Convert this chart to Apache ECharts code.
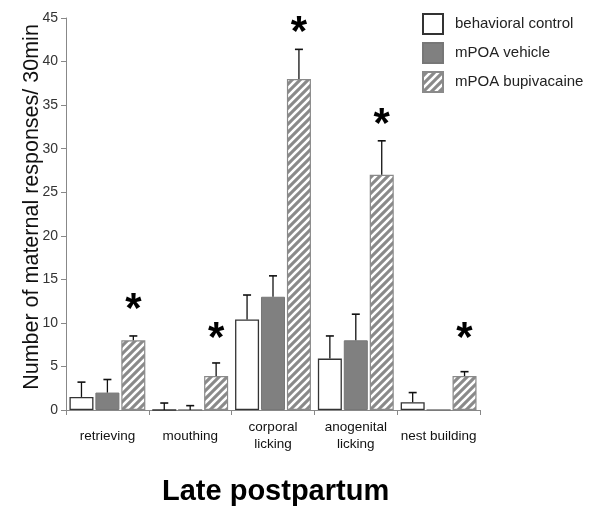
<!DOCTYPE html>
<html><head><meta charset="utf-8">
<script src="https://cdn.jsdelivr.net/npm/echarts@6/dist/echarts.min.js"></script>
<style>html,body{margin:0;padding:0;background:#fff}#c{width:600px;height:512px}</style>
</head><body><div id="c"></div>
<script>
const categories = ['retrieving', 'mouthing', 'corporal\nlicking', 'anogenital\nlicking', 'nest building'];
const seriesNames = ['behavioral control', 'mPOA vehicle', 'mPOA bupivacaine'];
const controlVals = [1.5, 0, 10.4, 5.9, 0.9];
const controlTops = [3.2, 0.8, 13.2, 8.5, 2.0];
const vehicleVals = [2.0, 0, 13.0, 8.0, 0];
const vehicleTops = [3.5, 0.5, 15.4, 11.0, 0];
const bupiVals = [8.0, 3.9, 38.0, 27.0, 3.9];
const bupiTops = [8.5, 5.4, 41.4, 30.9, 4.4];
const starLevels = [12.4, 9.0, 44.2, 33.6, 9.0];
const yTicks = [0, 5, 10, 15, 20, 25, 30, 35, 40, 45];

const FONT = 'Liberation Sans, Arial, sans-serif';

// hatch pattern
const pc = document.createElement('canvas');
pc.width = 8; pc.height = 8;
const g = pc.getContext('2d');
g.fillStyle = '#8a8a8a'; g.fillRect(0, 0, 8, 8);
g.strokeStyle = '#ffffff'; g.lineWidth = 2.6;
g.beginPath();
g.moveTo(-2, 10); g.lineTo(10, -2);
g.moveTo(-6, 6); g.lineTo(6, -6);
g.moveTo(2, 14); g.lineTo(14, 2);
g.stroke();

const BAR_W = 0.29, GAP = 0.08;
function errSeries(vals, tops, k) {
  const data = vals.map((v, i) => [i, v, tops[i]]);
  return {
    type: 'custom', z: 5, silent: true,
    data: data.filter(d => d[2] > d[1]),
    encode: { x: 0, y: [1, 2] },
    renderItem: function (params, api) {
      const band = api.size([1, 0])[0];
      const bw = band * BAR_W, off = (k - 1) * (bw * (1 + GAP));
      const p0 = api.coord([api.value(0), api.value(1)]);
      const p1 = api.coord([api.value(0), api.value(2)]);
      const x = p0[0] + off;
      return {
        type: 'group', children: [
          { type: 'line', shape: { x1: x, y1: p0[1], x2: x, y2: p1[1] }, style: { stroke: '#111', lineWidth: 1.3 } },
          { type: 'line', shape: { x1: x - 4, y1: p1[1], x2: x + 4, y2: p1[1] }, style: { stroke: '#111', lineWidth: 1.6 } }
        ]
      };
    }
  };
}

const starSeries = {
  type: 'custom', z: 6, silent: true,
  data: starLevels.map((v, i) => [i, v]),
  encode: { x: 0, y: 1 },
  renderItem: function (params, api) {
    const band = api.size([1, 0])[0];
    const bw = band * BAR_W, off = bw * (1 + GAP);
    const p = api.coord([api.value(0), api.value(1)]);
    return {
      type: 'text',
      style: { x: p[0] + off, y: p[1] + 8, text: '*', font: 'bold 42px ' + FONT, fill: '#000', align: 'center', verticalAlign: 'middle' }
    };
  }
};

const chart = echarts.init(document.getElementById('c'));
chart.setOption({
  animation: false,
  textStyle: { fontFamily: FONT },
  title: { text: 'Late postpartum', left: 157, top: 472, textStyle: { fontSize: 29, fontWeight: 'bold', color: '#000', fontFamily: FONT } },
  legend: {
    orient: 'vertical', left: 422, top: 13, padding: 0, itemWidth: 20, itemHeight: 20, itemGap: 7,
    icon: 'rect',
    textStyle: { fontSize: 15, color: '#222', fontFamily: FONT, padding: [0, 0, 0, 7] },
    data: seriesNames
  },
  grid: { left: 66, right: 120, top: 18, bottom: 102 },
  xAxis: {
    type: 'category', data: categories,
    axisLine: { lineStyle: { color: '#888', width: 1 } },
    axisTick: { show: true, length: 5, lineStyle: { color: '#888' } },
    axisLabel: { color: '#111', fontSize: 13.5, margin: 26, verticalAlign: 'middle', lineHeight: 17, interval: 0, fontFamily: FONT }
  },
  yAxis: {
    type: 'value', min: 0, max: 45, interval: 5,
    name: 'Number of maternal responses/ 30min', nameLocation: 'middle', nameGap: 23,
    nameMoveOverlap: false,
    nameTextStyle: { fontSize: 21.5, color: '#111', fontFamily: FONT, padding: [0, 0, 0, 14] },
    axisLine: { show: true, lineStyle: { color: '#888' } },
    axisTick: { show: true, length: 5, lineStyle: { color: '#888' } },
    axisLabel: { color: '#333', fontSize: 14, margin: 8, fontFamily: FONT },
    splitLine: { show: false }
  },
  series: [
    { name: seriesNames[0], type: 'bar', data: controlVals, barWidth: '29%', barGap: '8%',
      itemStyle: { color: '#ffffff', borderColor: '#333', borderWidth: 1.3 } },
    { name: seriesNames[1], type: 'bar', data: vehicleVals, barWidth: '29%', barGap: '8%',
      itemStyle: { color: '#808080', borderColor: '#777', borderWidth: 1 } },
    { name: seriesNames[2], type: 'bar', data: bupiVals, barWidth: '29%', barGap: '8%',
      itemStyle: { color: { image: pc, repetition: 'repeat' }, borderColor: '#8a8a8a', borderWidth: 1.2 } },
    errSeries(controlVals, controlTops, 0),
    errSeries(vehicleVals, vehicleTops, 1),
    errSeries(bupiVals, bupiTops, 2),
    starSeries
  ]
});
</script></body></html>
